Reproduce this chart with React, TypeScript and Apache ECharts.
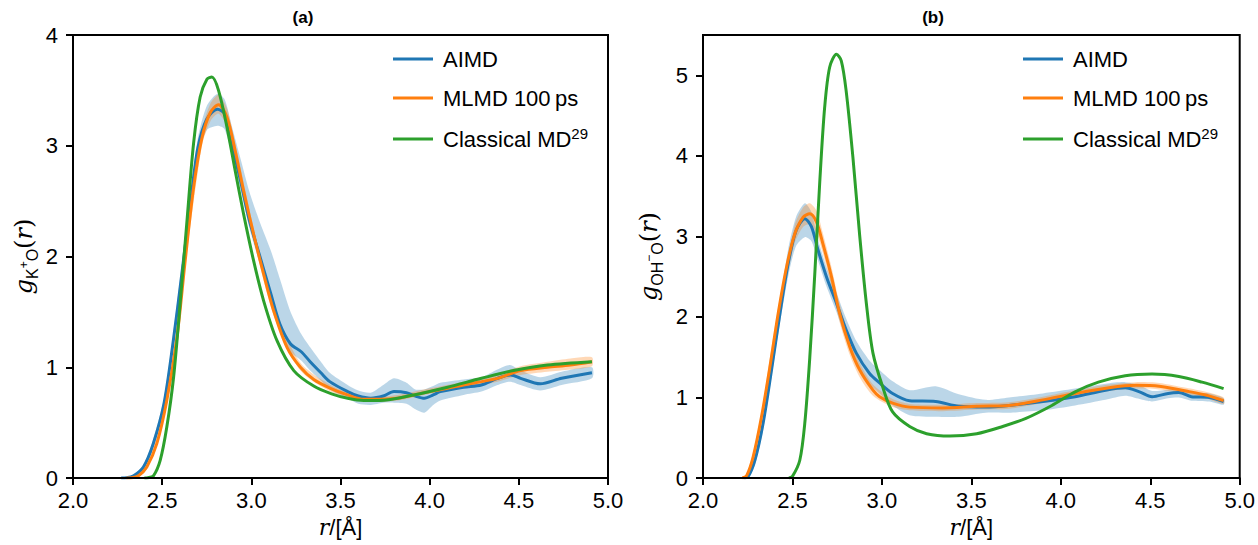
import React, { useEffect, useRef } from "react";
import * as echarts from "echarts";

const SANS = "'Liberation Sans', Arial, sans-serif";
const SERIF = "'DejaVu Serif', serif";

const xTicks = [2.0, 2.5, 3.0, 3.5, 4.0, 4.5, 5.0];
const yTicksA = [0, 1, 2, 3, 4];
const yTicksB = [0, 1, 2, 3, 4, 5];
const names = ["AIMD", "MLMD 100\u2009ps", "Classical MD29"];
const colors = ["#1f77b4", "#ff7f0e", "#2ca02c"];
const bandColors = ["rgba(31,119,180,0.3)", "rgba(255,127,14,0.3)"];

// ---------- Panel (a): g_K+O(r) ----------
const aimdA: number[][] = [
  [2.27, 0], [2.30, 0.002], [2.34, 0.02], [2.395, 0.10], [2.45, 0.31], [2.51, 0.67], [2.56, 1.21], [2.61, 1.84],
  [2.66, 2.50], [2.70, 2.98], [2.75, 3.24], [2.81, 3.33], [2.85, 3.29], [2.89, 3.02], [2.94, 2.68],
  [2.99, 2.32], [3.05, 1.99], [3.11, 1.66], [3.16, 1.39], [3.22, 1.21], [3.28, 1.14], [3.33, 1.05],
  [3.39, 0.95], [3.44, 0.87], [3.54, 0.78], [3.60, 0.74], [3.67, 0.72], [3.74, 0.74], [3.80, 0.78],
  [3.87, 0.77], [3.92, 0.74], [3.97, 0.72], [4.02, 0.75], [4.06, 0.78], [4.19, 0.82], [4.29, 0.84],
  [4.38, 0.90], [4.455, 0.93], [4.51, 0.90], [4.62, 0.85], [4.74, 0.90], [4.91, 0.95],
];
const aimdBandA: number[][] = [
  [2.30, 0, 0], [2.34, 0.01, 0.03], [2.40, 0.08, 0.13], [2.45, 0.28, 0.35], [2.51, 0.63, 0.72], [2.56, 1.15, 1.28],
  [2.61, 1.78, 1.92], [2.66, 2.42, 2.58], [2.70, 2.90, 3.07], [2.75, 3.14, 3.36], [2.81, 3.18, 3.47],
  [2.85, 3.15, 3.42], [2.89, 2.92, 3.18], [2.94, 2.60, 2.88], [2.99, 2.25, 2.58], [3.05, 1.92, 2.30],
  [3.11, 1.60, 2.05], [3.16, 1.34, 1.80], [3.22, 1.14, 1.50], [3.28, 1.06, 1.30], [3.33, 0.97, 1.18],
  [3.39, 0.88, 1.05], [3.44, 0.80, 0.95], [3.54, 0.72, 0.84], [3.60, 0.67, 0.79], [3.67, 0.66, 0.77],
  [3.74, 0.68, 0.84], [3.80, 0.68, 0.90], [3.87, 0.67, 0.86], [3.92, 0.62, 0.80], [3.97, 0.59, 0.80],
  [4.02, 0.66, 0.83], [4.06, 0.70, 0.86], [4.19, 0.75, 0.89], [4.29, 0.78, 0.91], [4.38, 0.84, 0.98],
  [4.45, 0.87, 1.02], [4.51, 0.84, 0.97], [4.62, 0.79, 0.91], [4.74, 0.84, 0.96], [4.91, 0.90, 1.0],
];
const mlmdA: number[][] = [
  [2.30, 0], [2.33, 0.002], [2.367, 0.02], [2.414, 0.10], [2.47, 0.31], [2.526, 0.70], [2.583, 1.27], [2.629, 1.96],
  [2.676, 2.62], [2.723, 3.07], [2.77, 3.30], [2.816, 3.37], [2.863, 3.26], [2.91, 2.95], [2.957, 2.59],
  [3.013, 2.20], [3.069, 1.84], [3.125, 1.51], [3.20, 1.18], [3.275, 1.0], [3.35, 0.89], [3.444, 0.81],
  [3.54, 0.75], [3.63, 0.71], [3.72, 0.71], [3.82, 0.72], [3.91, 0.75], [4.0, 0.78], [4.10, 0.81],
  [4.19, 0.84], [4.29, 0.87], [4.38, 0.90], [4.51, 0.97], [4.66, 1.0], [4.79, 1.02], [4.91, 1.05],
];
const mlmdBandA: number[][] = [
  [2.33, 0, 0], [2.414, 0.08, 0.12], [2.526, 0.66, 0.74], [2.629, 1.91, 2.02], [2.723, 3.0, 3.14],
  [2.77, 3.22, 3.38], [2.816, 3.29, 3.46], [2.863, 3.18, 3.34], [2.91, 2.89, 3.02], [3.013, 2.15, 2.26],
  [3.125, 1.47, 1.56], [3.275, 0.97, 1.04], [3.444, 0.78, 0.84], [3.63, 0.69, 0.73], [3.82, 0.70, 0.75],
  [4.0, 0.76, 0.81], [4.19, 0.81, 0.87], [4.38, 0.87, 0.94], [4.51, 0.93, 1.01], [4.66, 0.96, 1.05],
  [4.79, 0.98, 1.08], [4.91, 1.01, 1.09],
];
const classicalA: number[][] = [
  [2.40, 0], [2.42, 0.002], [2.451, 0.02], [2.489, 0.16], [2.526, 0.46], [2.564, 0.91], [2.601, 1.58], [2.639, 2.32],
  [2.676, 3.02], [2.713, 3.44], [2.751, 3.60], [2.779, 3.62], [2.816, 3.50], [2.863, 3.17], [2.91, 2.77],
  [2.957, 2.38], [3.013, 1.96], [3.069, 1.60], [3.144, 1.24], [3.238, 0.97], [3.35, 0.83], [3.45, 0.76],
  [3.54, 0.72], [3.63, 0.70], [3.72, 0.70], [3.91, 0.75], [4.10, 0.82], [4.29, 0.90], [4.47, 0.97],
  [4.66, 1.02], [4.91, 1.05],
];

// ---------- Panel (b): g_OH-O(r) ----------
const aimdB: number[][] = [
  [2.23, 0], [2.253, 0.02], [2.29, 0.22], [2.336, 0.68], [2.383, 1.34], [2.43, 2.04], [2.476, 2.66], [2.52, 3.07],
  [2.569, 3.22], [2.606, 3.12], [2.643, 2.83], [2.69, 2.50], [2.746, 2.17], [2.80, 1.84], [2.857, 1.55],
  [2.93, 1.30], [2.987, 1.18], [3.06, 1.05], [3.155, 0.96], [3.30, 0.95], [3.43, 0.89], [3.58, 0.88],
  [3.71, 0.90], [3.90, 0.95], [4.08, 1.01], [4.25, 1.09], [4.36, 1.12], [4.44, 1.07], [4.51, 1.01],
  [4.60, 1.05], [4.66, 1.06], [4.73, 1.01], [4.83, 1.0], [4.91, 0.95],
];
const aimdBandB: number[][] = [
  [2.23, 0, 0], [2.253, 0.0, 0.04], [2.29, 0.16, 0.28], [2.336, 0.60, 0.76], [2.383, 1.25, 1.44], [2.43, 1.92, 2.18],
  [2.476, 2.50, 2.84], [2.52, 2.88, 3.24], [2.569, 2.99, 3.41], [2.606, 2.94, 3.30], [2.643, 2.70, 2.96],
  [2.69, 2.38, 2.62], [2.746, 2.06, 2.30], [2.80, 1.72, 1.98], [2.857, 1.42, 1.70], [2.93, 1.17, 1.46],
  [2.987, 1.05, 1.34], [3.06, 0.90, 1.20], [3.155, 0.78, 1.09], [3.30, 0.76, 1.14], [3.43, 0.76, 1.04],
  [3.58, 0.81, 0.97], [3.71, 0.81, 1.0], [3.90, 0.84, 1.05], [4.08, 0.90, 1.11], [4.25, 0.97, 1.17],
  [4.36, 1.02, 1.19], [4.44, 0.98, 1.15], [4.51, 0.95, 1.08], [4.60, 0.99, 1.10], [4.66, 1.0, 1.11],
  [4.73, 0.96, 1.06], [4.83, 0.95, 1.05], [4.91, 0.91, 0.99],
];
const mlmdB: number[][] = [
  [2.22, 0], [2.244, 0.03], [2.28, 0.26], [2.327, 0.76], [2.374, 1.38], [2.42, 2.04], [2.467, 2.62], [2.513, 3.03],
  [2.56, 3.24], [2.597, 3.28], [2.634, 3.18], [2.67, 2.91], [2.718, 2.50], [2.764, 2.04], [2.82, 1.63],
  [2.876, 1.34], [2.95, 1.09], [2.987, 1.01], [3.06, 0.93], [3.155, 0.88], [3.34, 0.87], [3.53, 0.89],
  [3.71, 0.90], [3.90, 0.97], [4.08, 1.05], [4.27, 1.12], [4.42, 1.15], [4.55, 1.14], [4.70, 1.08],
  [4.81, 1.03], [4.91, 0.96],
];
const mlmdBandB: number[][] = [
  [2.22, 0, 0], [2.244, 0.01, 0.05], [2.28, 0.21, 0.31], [2.327, 0.70, 0.82], [2.42, 1.96, 2.12], [2.513, 2.92, 3.14],
  [2.56, 3.12, 3.36], [2.597, 3.15, 3.41], [2.634, 3.05, 3.32], [2.67, 2.79, 3.04], [2.718, 2.38, 2.62],
  [2.764, 1.93, 2.16], [2.82, 1.53, 1.74], [2.876, 1.25, 1.43], [2.95, 1.02, 1.16], [3.06, 0.88, 0.98],
  [3.155, 0.84, 0.92], [3.34, 0.83, 0.91], [3.53, 0.85, 0.93], [3.71, 0.86, 0.94], [3.90, 0.93, 1.01],
  [4.08, 1.01, 1.09], [4.27, 1.08, 1.16], [4.42, 1.11, 1.19], [4.55, 1.10, 1.18], [4.70, 1.04, 1.12],
  [4.81, 0.99, 1.07], [4.91, 0.92, 1.0],
];
const classicalB: number[][] = [
  [2.48, 0], [2.50, 0.02], [2.541, 0.22], [2.569, 0.68], [2.597, 1.50], [2.625, 2.54], [2.653, 3.69], [2.68, 4.60],
  [2.708, 5.10], [2.746, 5.26], [2.773, 5.18], [2.80, 4.81], [2.838, 3.98], [2.875, 3.03], [2.913, 2.17],
  [2.95, 1.55], [3.006, 1.12], [3.06, 0.82], [3.155, 0.64], [3.25, 0.55], [3.38, 0.52], [3.53, 0.55],
  [3.675, 0.64], [3.805, 0.74], [3.95, 0.90], [4.08, 1.07], [4.21, 1.19], [4.36, 1.27], [4.51, 1.29],
  [4.66, 1.26], [4.79, 1.19], [4.91, 1.11],
];

function bandSeries(band: number[][], color: string, idx: number) {
  return {
    type: "custom",
    xAxisIndex: idx,
    yAxisIndex: idx,
    data: band,
    encode: { x: 0, y: [1, 2] },
    silent: true,
    z: 1,
    renderItem: (params: any, api: any) => {
      if (params.dataIndex !== 0) return null;
      const up = band.map((d) => api.coord([d[0], d[2]]));
      const lo = band.map((d) => api.coord([d[0], d[1]])).reverse();
      return {
        type: "polygon",
        shape: { points: up.concat(lo), smooth: 0.25 },
        style: { fill: color, stroke: "none" },
      };
    },
  };
}

function lineSeries(data: number[][], name: string, color: string, idx: number) {
  return {
    type: "line",
    name,
    xAxisIndex: idx,
    yAxisIndex: idx,
    data,
    symbol: "none",
    smooth: 0.3,
    lineStyle: { width: 3, color },
    itemStyle: { color },
    z: 3,
  };
}

const tickLabelStyle = { fontSize: 22, color: "#000", fontFamily: SANS };

function xAxis(idx: number) {
  return {
    type: "value",
    gridIndex: idx,
    min: 2,
    max: 5,
    interval: 0.5,
    z: 10,
    axisLine: { show: true, onZero: false, lineStyle: { color: "#000", width: 2 } },
    axisTick: { show: true, length: 7, lineStyle: { color: "#000", width: 2 }, customValues: xTicks },
    axisLabel: { ...tickLabelStyle, margin: 11, customValues: xTicks, formatter: (v: number) => v.toFixed(1) },
    splitLine: { show: false },
    name: "{i|r}{n|/[Å]}",
    nameLocation: "middle",
    nameGap: 38,
    nameTextStyle: {
      rich: {
        i: { fontFamily: SERIF, fontStyle: "italic", fontSize: 22, color: "#000" },
        n: { fontFamily: SANS, fontSize: 22, color: "#000" },
      },
    },
  };
}

function yAxis(idx: number, max: number, ticks: number[], name: string, gap: number) {
  return {
    type: "value",
    gridIndex: idx,
    min: 0,
    max,
    z: 10,
    axisLine: { show: true, onZero: false, lineStyle: { color: "#000", width: 2 } },
    axisTick: { show: true, length: 7, lineStyle: { color: "#000", width: 2 }, customValues: ticks },
    axisLabel: { ...tickLabelStyle, margin: 15, customValues: ticks },
    splitLine: { show: false },
    name,
    nameLocation: "middle",
    nameRotate: 90,
    nameGap: gap,
    nameTextStyle: {
      rich: {
        g: { fontFamily: SERIF, fontStyle: "italic", fontSize: 24, color: "#000", lineHeight: 32 },
        s: { fontFamily: SANS, fontSize: 16, color: "#000", verticalAlign: "bottom", lineHeight: 18 },
        sp: { fontFamily: SANS, fontSize: 12, color: "#000", verticalAlign: "middle", lineHeight: 12 },
        p: { fontFamily: SERIF, fontSize: 24, color: "#000", lineHeight: 32 },
      },
    },
  };
}

function legend(left: number) {
  return {
    orient: "vertical",
    left,
    top: 43,
    itemWidth: 40,
    itemHeight: 3,
    itemGap: 17,
    icon: "rect",
    data: names,
    selectedMode: false,
    formatter: (n: string) => (n === "Classical MD29" ? "{n|Classical MD}{s|29}" : "{n|" + n + "}"),
    textStyle: {
      padding: [0, 0, 0, 5],
      rich: {
        n: { fontSize: 22, fontFamily: SANS, color: "#000", lineHeight: 26 },
        s: { fontSize: 15, fontFamily: SANS, color: "#000", lineHeight: 14, verticalAlign: "top" },
      },
    },
  };
}

const titleStyle = { textAlign: "center", fontSize: 17, fontWeight: "bold", fontFamily: SANS, fill: "#000" };

export default function App() {
  const ref = useRef<HTMLDivElement>(null);
  useEffect(() => {
    if (!ref.current) return;
    const chart = echarts.init(ref.current, undefined, { renderer: "svg" });
    chart.setOption({
      animation: false,
      backgroundColor: "#fff",
      grid: [
        { left: 73, top: 35, width: 535, height: 443, show: true, borderColor: "#000", borderWidth: 2, backgroundColor: "transparent", z: 10 },
        { left: 703, top: 35, width: 538, height: 443, show: true, borderColor: "#000", borderWidth: 2, backgroundColor: "transparent", z: 10 },
      ],
      xAxis: [xAxis(0), xAxis(1)],
      yAxis: [
        yAxis(0, 4, yTicksA, "{g|g}{s|K}{sp|+}{s|O}{p|(}{g|r}{p|)}", 33),
        yAxis(1, 5.5, yTicksB, "{g|g}{s|OH}{sp|\u2212}{s|O}{p|(}{g|r}{p|)}", 38),
      ],
      legend: [legend(388), legend(1018)],
      graphic: [
        { type: "text", x: 303, y: 9, style: { ...titleStyle, text: "(a)" } },
        { type: "text", x: 933, y: 9, style: { ...titleStyle, text: "(b)" } },
      ],
      series: [
        bandSeries(aimdBandA, bandColors[0], 0),
        lineSeries(aimdA, names[0], colors[0], 0),
        bandSeries(mlmdBandA, bandColors[1], 0),
        lineSeries(mlmdA, names[1], colors[1], 0),
        lineSeries(classicalA, names[2], colors[2], 0),
        bandSeries(aimdBandB, bandColors[0], 1),
        lineSeries(aimdB, names[0], colors[0], 1),
        bandSeries(mlmdBandB, bandColors[1], 1),
        lineSeries(mlmdB, names[1], colors[1], 1),
        lineSeries(classicalB, names[2], colors[2], 1),
      ],
    });
    return () => chart.dispose();
  }, []);
  return <div ref={ref} style={{ position: "fixed", left: 0, top: 0, width: 1258, height: 545 }} />;
}
